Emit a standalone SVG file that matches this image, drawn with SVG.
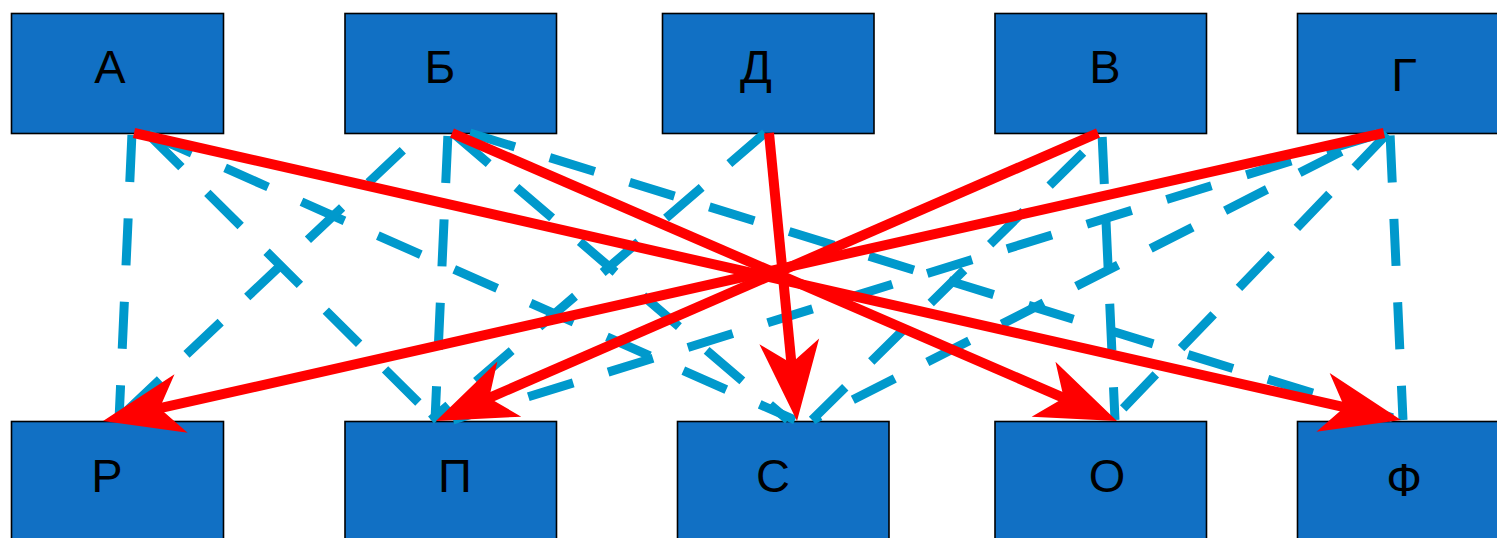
<svg xmlns="http://www.w3.org/2000/svg" width="1497" height="538" viewBox="0 0 1497 538">
  <style>
    .box { fill: #1170c4; stroke: #000; stroke-width: 1.6; }
    .lbl { font-family: "Liberation Sans", Arial, sans-serif; font-size: 47px; fill: #000; text-anchor: middle; }
    .dash { fill: none; stroke: #0099cc; stroke-width: 9; stroke-dasharray: 47 36.5; stroke-linecap: butt; }
    .arrow { fill: none; stroke: #ff0000; stroke-width: 10; stroke-linecap: butt; marker-end: url(#barb); }
  </style>
  <defs>
    <!-- barbed arrowhead; origin sits at the line end, tip 55px further on -->
    <marker id="barb" markerUnits="userSpaceOnUse" orient="auto" refX="0" refY="0" markerWidth="1" markerHeight="1" overflow="visible">
      <path d="M55,0 L-25,-30 L-3,0 L-25,30 Z" fill="#ff0000"/>
    </marker>
  </defs>

  <rect width="1497" height="538" fill="#ffffff"/>

  <!-- top row -->
  <g id="node-A"><rect class="box" x="11.5" y="13.5" width="212" height="120"/><text class="lbl" x="110" y="83">А</text></g>
  <g id="node-B"><rect class="box" x="345" y="13.5" width="211.5" height="120"/><text class="lbl" x="440" y="83">Б</text></g>
  <g id="node-D"><rect class="box" x="662.5" y="13.5" width="211.5" height="120"/><text class="lbl" x="756" y="83">Д</text></g>
  <g id="node-V"><rect class="box" x="995" y="13.5" width="211.5" height="120"/><text class="lbl" x="1105" y="83">В</text></g>
  <g id="node-G"><rect class="box" x="1297.5" y="13.5" width="212" height="120"/><text class="lbl" x="1404" y="91">Г</text></g>

  <!-- bottom row -->
  <g id="node-R"><rect class="box" x="11.5" y="421.5" width="212" height="130"/><text class="lbl" x="107" y="492">Р</text></g>
  <g id="node-P"><rect class="box" x="345" y="421.5" width="211.5" height="130"/><text class="lbl" x="455" y="492">П</text></g>
  <g id="node-S"><rect class="box" x="677.5" y="421.5" width="211.5" height="130"/><text class="lbl" x="773" y="492">С</text></g>
  <g id="node-O"><rect class="box" x="995" y="421.5" width="211.5" height="130"/><text class="lbl" x="1107" y="492">О</text></g>
  <g id="node-F"><rect class="box" x="1297.5" y="421.5" width="212" height="130"/><text class="lbl" x="1404" y="496" font-size="50">Ф</text></g>

  <g id="connectors">
    <!-- dashed links -->
    <line class="dash" x1="132" y1="133" x2="119" y2="420" stroke-dashoffset="-2"/>
    <line class="dash" x1="147" y1="133" x2="436" y2="420" stroke-dashoffset="-1.5"/>
    <line class="dash" x1="146" y1="133" x2="795" y2="420" stroke-dashoffset="-3"/>
    <line class="dash" x1="421" y1="133" x2="117" y2="420" stroke-dashoffset="-25"/>
    <line class="dash" x1="448" y1="133" x2="435" y2="420" stroke-dashoffset="-3"/>
    <line class="dash" x1="453" y1="133" x2="788" y2="420" stroke-dashoffset="0"/>
    <line class="dash" x1="470" y1="133" x2="1400" y2="420" stroke-dashoffset="0"/>
    <line class="dash" x1="765" y1="133" x2="431" y2="420" stroke-dashoffset="0"/>
    <line class="dash" x1="1103" y1="133" x2="812" y2="420" stroke-dashoffset="-28"/>
    <line class="dash" x1="1102" y1="133" x2="1115" y2="420" stroke-dashoffset="-4"/>
    <line class="dash" x1="1382" y1="133" x2="453" y2="420" stroke-dashoffset="-11.5"/>
    <line class="dash" x1="1378" y1="133" x2="813" y2="420" stroke-dashoffset="-41"/>
    <line class="dash" x1="1388" y1="133" x2="1112" y2="420" stroke-dashoffset="-1"/>
    <line class="dash" x1="1390" y1="133" x2="1403" y2="420" stroke-dashoffset="-2.5"/>

    <!-- solid arrows -->
    <line class="arrow" x1="134" y1="133" x2="1347.4" y2="407.9"/>
    <line class="arrow" x1="452" y1="133" x2="1066.5" y2="399.1"/>
    <line class="arrow" x1="769" y1="133" x2="791.7" y2="366.3"/>
    <line class="arrow" x1="1098" y1="133" x2="486.4" y2="399.1"/>
    <line class="arrow" x1="1384" y1="133" x2="156.7" y2="408.9"/>
  </g>
</svg>
